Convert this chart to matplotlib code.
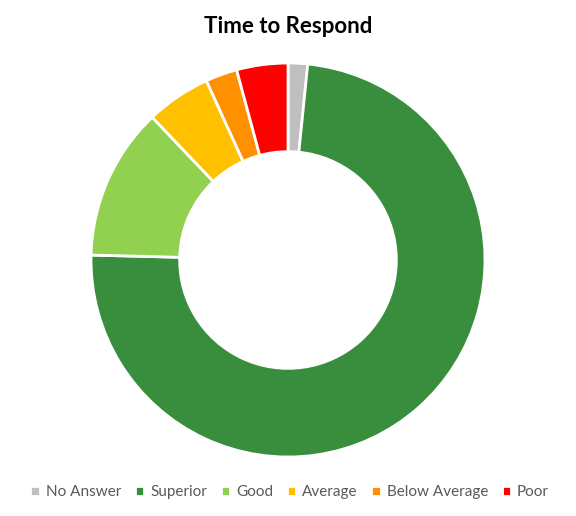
import matplotlib.pyplot as plt

# Share of responses per rating (percent)
categories = ["No Answer", "Superior", "Good", "Average", "Below Average", "Poor"]
shares = [1.6, 73.8, 12.5, 5.3, 2.6, 4.2]
colors = ["#BFBFBF", "#388E3C", "#92D050", "#FFC000", "#FF9100", "#FF0000"]

plt.rcParams['font.family'] = ['Lato', 'DejaVu Sans']

fig = plt.figure(figsize=(5.76, 5.16), dpi=100)
ax = fig.add_axes([0.158, 0.1143, 0.684, 0.7636])

wedges, _ = ax.pie(
    shares,
    colors=colors,
    startangle=90,
    counterclock=False,
    radius=1.0,
    wedgeprops=dict(width=0.45, edgecolor="white", linewidth=2),
)
ax.set_xlim(-1, 1)
ax.set_ylim(-1, 1)
ax.set_aspect("equal")
ax.axis("off")

fig.text(0.5, 0.948, "Time to Respond", ha="center", va="center",
         fontsize=16, fontweight="bold", color="black")

fig.legend(
    wedges, categories,
    loc="center",
    bbox_to_anchor=(0.503, 0.046),
    ncol=6,
    frameon=False,
    fontsize=11,
    handlelength=0.6,
    handleheight=0.6,
    handletextpad=0.4,
    columnspacing=0.9,
    labelcolor="#595959",
)

fig.savefig("out.png", dpi=100)
